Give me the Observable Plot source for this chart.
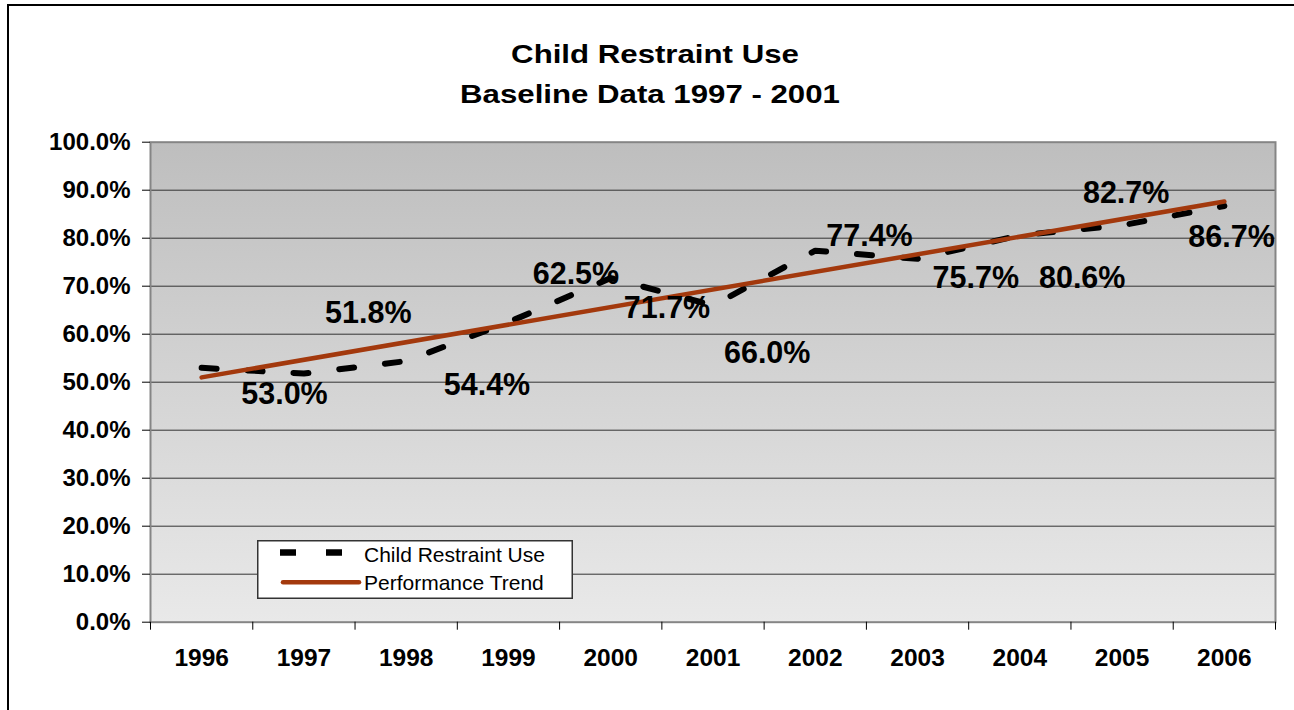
<!DOCTYPE html>
<html>
<head>
<meta charset="utf-8">
<script src="https://cdn.jsdelivr.net/npm/d3@7"></script>
<script src="https://cdn.jsdelivr.net/npm/@observablehq/plot@0.6"></script>
<style>
  body { margin: 0; background: #fff; }
  #wrap { position: relative; width: 1294px; height: 710px; overflow: hidden;
          font-family: Arial, "Liberation Sans", sans-serif; }
  .title { position: absolute; width: 800px; text-align: center; font-weight: bold;
           font-size: 26px; line-height: 1; color: #000; white-space: nowrap;
           transform: scaleX(1.2); transform-origin: 50% 50%; }
  #border { position: absolute; left: 7px; top: 4px; width: 1320px; height: 740px;
            border-left: 2.5px solid #000; border-top: 2.5px solid #000; pointer-events: none; }
  #chart svg { position: absolute; left: 0; top: 0; }
  #legend { position: absolute; left: 257px; top: 540px; }
</style>
</head>
<body>
<div id="wrap">
  <div id="chart"></div>
  <div class="title" id="t1" style="left:255px; top:40.5px;"></div>
  <div class="title" id="t2" style="left:250px; top:80.5px;"></div>
  <svg id="legend" width="316" height="59"></svg>
  <div id="border"></div>
</div>
<script>
// ---- data ----
const titleLines = ["Child Restraint Use", "Baseline Data 1997 - 2001"];
const years = [1996, 1997, 1998, 1999, 2000, 2001, 2002, 2003, 2004, 2005, 2006];
const childRestraintUse = [53.0, 51.8, 54.4, 62.5, 71.7, 66.0, 77.4, 75.7, 80.6, 82.7, 86.7];
// where each data label sits in the reference (data units: year, percent)
const labelYear = [1996.81, 1997.63, 1998.79, 1999.66, 2000.55, 2001.53, 2002.53, 2003.57, 2004.61, 2005.04, 2006.07];
const labelPct  = [47.5, 64.3, 49.3, 72.4, 65.4, 56.1, 80.4, 71.7, 71.7, 89.4, 80.1];
const yTicks = [0, 10, 20, 30, 40, 50, 60, 70, 80, 90, 100];
const seriesNames = ["Child Restraint Use", "Performance Trend"];

const dataColor = "#000000";
const trendColor = "#a3390d";

const data = years.map((year, i) => ({
  year, value: childRestraintUse[i], lx: labelYear[i], ly: labelPct[i]
}));
const boundaries = d3.range(years.length + 1).map(i => years[0] - 0.5 + i);

document.getElementById("t1").textContent = titleLines[0];
document.getElementById("t2").textContent = titleLines[1];

const chart = Plot.plot({
  width: 1294,
  height: 710,
  marginTop: 141.7,
  marginBottom: 88.3,
  marginLeft: 150,
  marginRight: 19,
  style: { fontFamily: 'Arial, "Liberation Sans", sans-serif', color: "#000", background: "transparent" },
  x: { type: "linear", domain: [years[0] - 0.5, years[years.length - 1] + 0.5] },
  y: { domain: [0, 100] },
  marks: [
    Plot.frame({ fill: "url(#plotBg)" }),
    Plot.gridY(yTicks.filter(t => t > 0 && t < 100), { stroke: "#333", strokeOpacity: 1, strokeWidth: 1 }),
    Plot.frame({ stroke: "#858585", strokeWidth: 2 }),
    Plot.axisY(yTicks, { tickSize: 8, tickPadding: 12, tickFormat: d => d.toFixed(1) + "%",
                         fontSize: 24, fontWeight: "bold" }),
    Plot.axisX(boundaries, { tickSize: 8, tickFormat: () => "" }),
    Plot.axisX(years, { tickSize: 0, tickPadding: 26, tickFormat: d => String(d),
                        fontSize: 24.5, fontWeight: "bold" }),
    Plot.line(data, { x: "year", y: "value", stroke: dataColor, strokeWidth: 6, strokeDasharray: "15,31" }),
    Plot.linearRegressionY(data, { x: "year", y: "value", stroke: trendColor, strokeWidth: 4.5, ci: 0 }),
    Plot.text(data, { x: "lx", y: "ly", text: d => d.value.toFixed(1) + "%",
                      fontSize: 30.5, fontWeight: "bold", fill: "#000" })
  ]
});

// plot-area gradient background
const svgSel = d3.select(chart);
const grad = svgSel.insert("defs", ":first-child")
  .append("linearGradient").attr("id", "plotBg")
  .attr("x1", 0).attr("y1", 0).attr("x2", 0).attr("y2", 1);
grad.append("stop").attr("offset", "0%").attr("stop-color", "#bebebe");
grad.append("stop").attr("offset", "100%").attr("stop-color", "#e9e9e9");

document.getElementById("chart").appendChild(chart);

// legend
const lg = d3.select("#legend");
lg.append("rect").attr("x", 0.75).attr("y", 0.75).attr("width", 314.5).attr("height", 57.5)
  .attr("fill", "#fff").attr("stroke", "#333").attr("stroke-width", 1.5);
lg.append("line").attr("x1", 23).attr("x2", 85).attr("y1", 12.5).attr("y2", 12.5)
  .attr("stroke", dataColor).attr("stroke-width", 6.5).attr("stroke-dasharray", "16,30");
lg.append("text").attr("x", 107).attr("y", 21.7).attr("font-size", 21)
  .attr("font-family", 'Arial, "Liberation Sans", sans-serif').attr("fill", "#000").text(seriesNames[0]);
lg.append("line").attr("x1", 26).attr("x2", 102).attr("y1", 42.3).attr("y2", 42.3)
  .attr("stroke", trendColor).attr("stroke-width", 4.5).attr("stroke-linecap", "round");
lg.append("text").attr("x", 107).attr("y", 50).attr("font-size", 21)
  .attr("font-family", 'Arial, "Liberation Sans", sans-serif').attr("fill", "#000").text(seriesNames[1]);
</script>
</body>
</html>
